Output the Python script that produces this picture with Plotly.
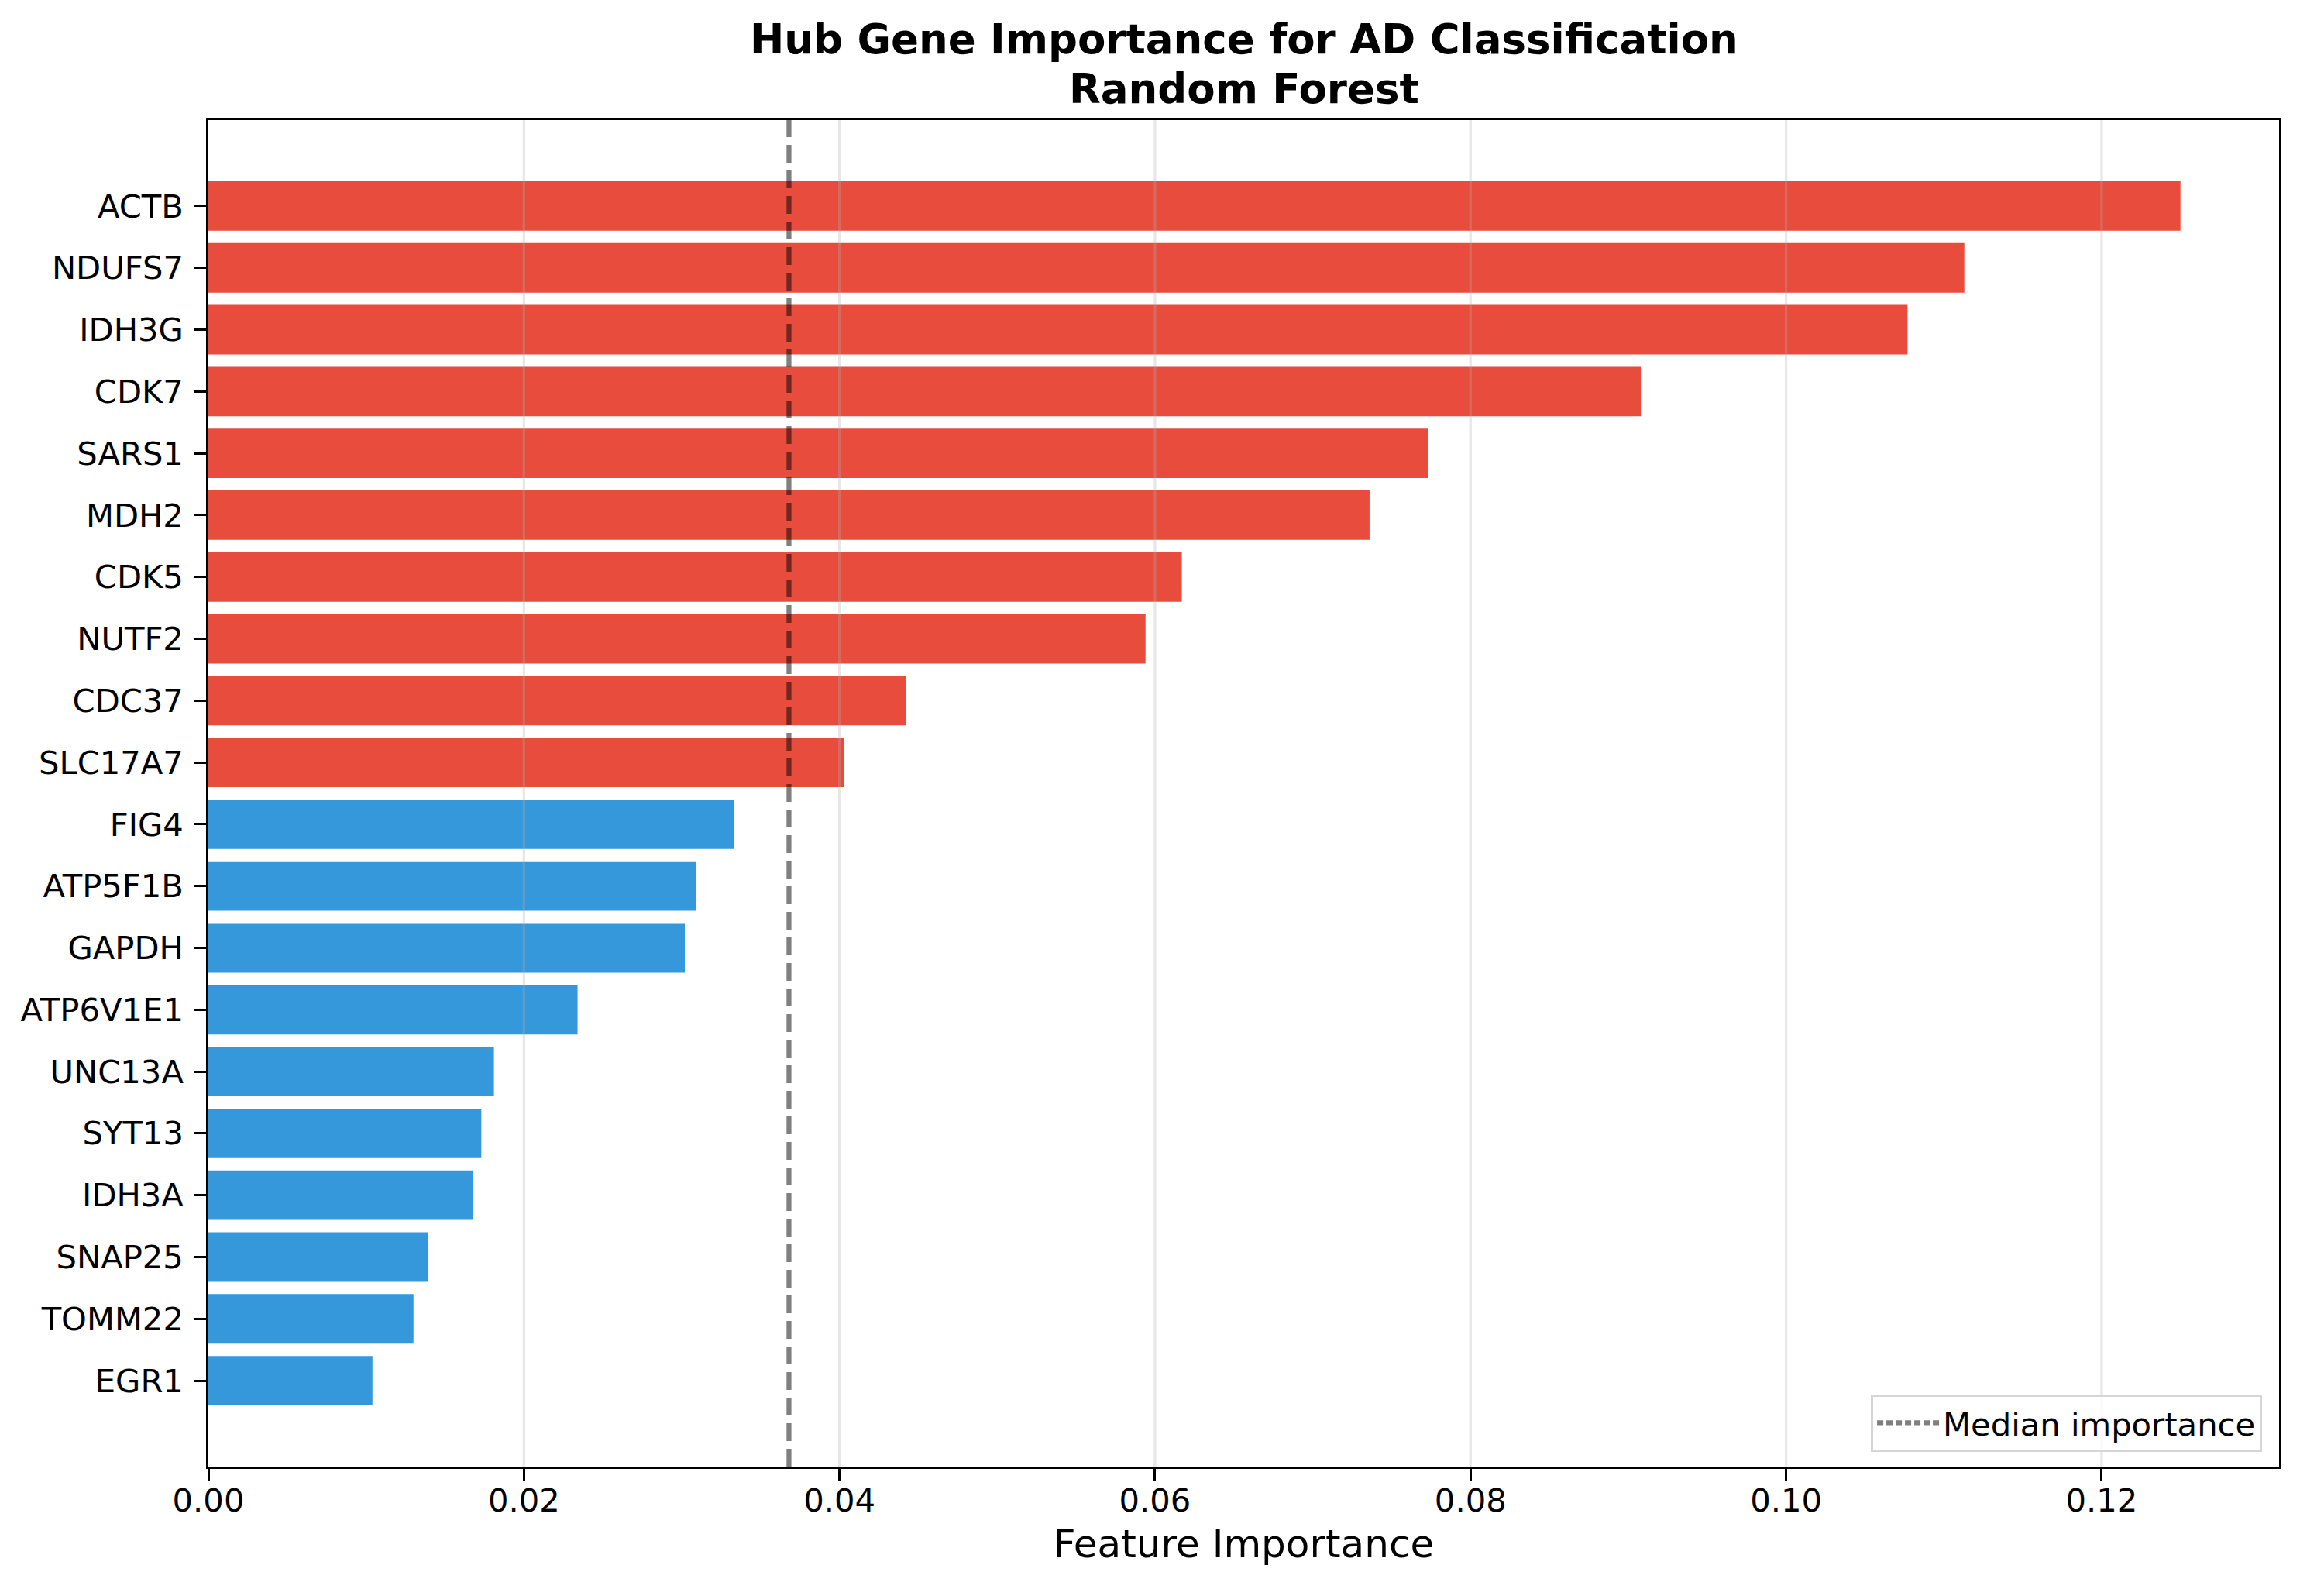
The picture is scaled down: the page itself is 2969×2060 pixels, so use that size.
import numpy as np
import plotly.graph_objects as go

# 遺伝子と重要度（上から順）
genes = ['ACTB', 'NDUFS7', 'IDH3G', 'CDK7', 'SARS1', 'MDH2', 'CDK5', 'NUTF2', 'CDC37', 'SLC17A7',
         'FIG4', 'ATP5F1B', 'GAPDH', 'ATP6V1E1', 'UNC13A', 'SYT13', 'IDH3A', 'SNAP25', 'TOMM22', 'EGR1']
importance = [0.1250, 0.1113, 0.1077, 0.0908, 0.0773, 0.0736, 0.0617, 0.0594, 0.0442, 0.0403,
              0.0333, 0.0309, 0.0302, 0.0234, 0.0181, 0.0173, 0.0168, 0.0139, 0.0130, 0.0104]
x_ticks = [0.00, 0.02, 0.04, 0.06, 0.08, 0.10, 0.12]

RED = '#e74c3c'
BLUE = '#3498db'
FONT = 'DejaVu Sans'
LINE_COLOR = 'rgba(0,0,0,0.5)'

n = len(genes)
pos = list(range(n))
median = float(np.median(importance))
colors = [RED if v > median else BLUE for v in importance]

fig = go.Figure()

# 棒グラフ
fig.add_trace(go.Bar(x=importance, y=pos, orientation='h', width=0.8,
                     marker=dict(color=colors, line=dict(width=0)), showlegend=False))

# グリッド線（棒の上に描く）
for t in x_ticks[1:]:
    fig.add_vline(x=t, line=dict(color='rgba(176,176,176,0.3)', width=3.3), layer='above')

# 中央値の線
fig.add_vline(x=median, line=dict(color=LINE_COLOR, width=6.25, dash='23px,10px'), layer='above')
fig.add_trace(go.Scatter(x=[None], y=[None], mode='lines', name='Median importance',
                         line=dict(color=LINE_COLOR, width=6.25, dash='8px,4px')))

# タイトル（2行）
fig.add_annotation(text='<b>Hub Gene Importance for AD Classification</b>', xref='paper', yref='paper',
                   x=0.5, y=(1893 - 50) / 1738, xanchor='center', yanchor='middle', showarrow=False,
                   font=dict(family=FONT, size=53, color='black'))
fig.add_annotation(text='<b>Random Forest</b>', xref='paper', yref='paper',
                   x=0.5, y=(1893 - 115) / 1738, xanchor='center', yanchor='middle', showarrow=False,
                   font=dict(family=FONT, size=53, color='black'))

pad = 0.4 + 0.05 * (n - 1 + 0.8)
xmax = max(importance) * 1.05

axis_style = dict(showgrid=False, zeroline=False, showline=True, linecolor='black', linewidth=3.3,
                  mirror=True, ticks='outside', ticklen=14.6, tickwidth=3.3, tickcolor='black',
                  tickfont=dict(size=41.7), automargin=False)

# ページ本体の余白(8px)を差し引いた大きさ
fig.update_layout(
    width=2953, height=2044,
    margin=dict(l=261, r=19, t=147, b=159),
    plot_bgcolor='white', paper_bgcolor='white',
    font=dict(family=FONT, size=41.7, color='black'),
    xaxis=dict(range=[0, xmax], tickvals=x_ticks, ticktext=[f'{t:.2f}' for t in x_ticks],
               ticklabelstandoff=-10,
               title=dict(text='Feature Importance', font=dict(size=50), standoff=16), **axis_style),
    yaxis=dict(range=[n - 1 + pad, -pad], tickvals=pos, ticktext=genes, ticklabelstandoff=6,
               **axis_style),
    legend=dict(x=0.9918, xanchor='right', y=0.011, yanchor='bottom', itemwidth=80,
                bgcolor='rgba(255,255,255,0.8)', bordercolor='#d6d6d6', borderwidth=3,
                font=dict(size=41.7)),
)

fig.write_html('out.html')
